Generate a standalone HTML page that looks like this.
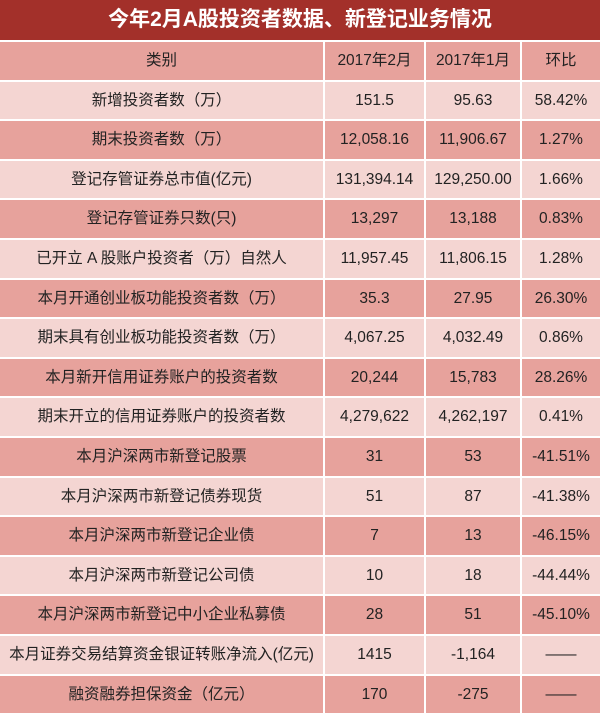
<!DOCTYPE html>
<html><head><meta charset="utf-8"><style>
body{margin:0;width:600px;height:714px;background:#fff;overflow:hidden;font-family:"Liberation Sans","Noto Sans CJK SC",sans-serif;}
.t{height:40px;background:#a3302a;color:#fff;font-weight:bold;font-size:21px;text-align:center;line-height:40px;}
.r{display:flex;height:37.6px;margin-top:2px;}
.r div{height:37.6px;line-height:37.6px;text-align:center;font-size:15.5px;color:#222;white-space:nowrap;overflow:hidden;margin-right:2px;}
.r div:nth-child(1){width:323px}
.r div:nth-child(2){width:99px}
.r div:nth-child(3){width:94px}
.r div:nth-child(4){width:78px;margin-right:0}
.d div{background:#e7a29c;}
.l div{background:#f4d5d2;}
</style></head><body>
<div class="t">今年2月A股投资者数据、新登记业务情况</div>
<div class="r d"><div>类别</div><div>2017年2月</div><div>2017年1月</div><div>环比</div></div>
<div class="r l"><div>新增投资者数（万）</div><div>151.5</div><div>95.63</div><div>58.42%</div></div>
<div class="r d"><div>期末投资者数（万）</div><div>12,058.16</div><div>11,906.67</div><div>1.27%</div></div>
<div class="r l"><div>登记存管证券总市值(亿元)</div><div>131,394.14</div><div>129,250.00</div><div>1.66%</div></div>
<div class="r d"><div>登记存管证券只数(只)</div><div>13,297</div><div>13,188</div><div>0.83%</div></div>
<div class="r l"><div>已开立 A 股账户投资者（万）自然人</div><div>11,957.45</div><div>11,806.15</div><div>1.28%</div></div>
<div class="r d"><div>本月开通创业板功能投资者数（万）</div><div>35.3</div><div>27.95</div><div>26.30%</div></div>
<div class="r l"><div>期末具有创业板功能投资者数（万）</div><div>4,067.25</div><div>4,032.49</div><div>0.86%</div></div>
<div class="r d"><div>本月新开信用证券账户的投资者数</div><div>20,244</div><div>15,783</div><div>28.26%</div></div>
<div class="r l"><div>期末开立的信用证券账户的投资者数</div><div>4,279,622</div><div>4,262,197</div><div>0.41%</div></div>
<div class="r d"><div>本月沪深两市新登记股票</div><div>31</div><div>53</div><div>-41.51%</div></div>
<div class="r l"><div>本月沪深两市新登记债券现货</div><div>51</div><div>87</div><div>-41.38%</div></div>
<div class="r d"><div>本月沪深两市新登记企业债</div><div>7</div><div>13</div><div>-46.15%</div></div>
<div class="r l"><div>本月沪深两市新登记公司债</div><div>10</div><div>18</div><div>-44.44%</div></div>
<div class="r d"><div>本月沪深两市新登记中小企业私募债</div><div>28</div><div>51</div><div>-45.10%</div></div>
<div class="r l"><div>本月证券交易结算资金银证转账净流入(亿元)</div><div>1415</div><div>-1,164</div><div>——</div></div>
<div class="r d"><div>融资融券担保资金（亿元）</div><div>170</div><div>-275</div><div>——</div></div>
</body></html>
